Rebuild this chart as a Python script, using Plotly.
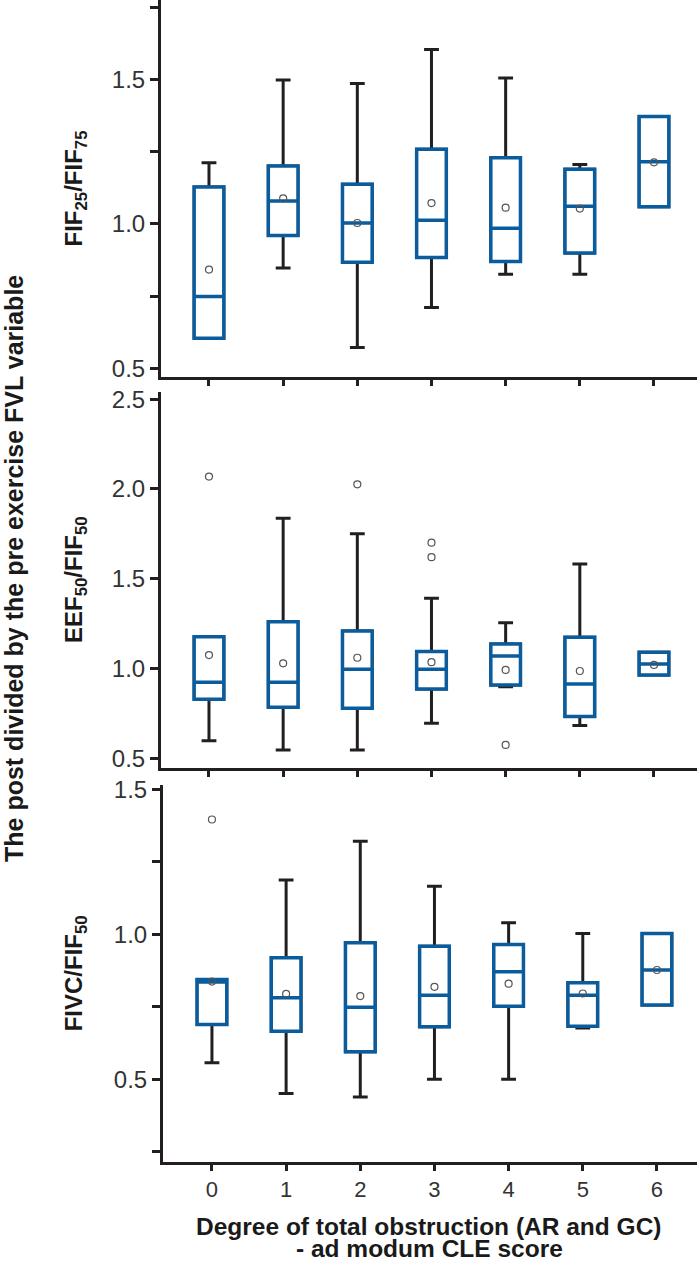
import plotly.graph_objects as go

# ---------------- data ----------------
categories = [0, 1, 2, 3, 4, 5, 6]

# Panel 1: FIF25/FIF75
p1_lower = [0.604, 0.847, 0.572, 0.711, 0.826, 0.826, 1.059]
p1_q1 = [0.604, 0.960, 0.867, 0.884, 0.870, 0.899, 1.059]
p1_median = [0.749, 1.079, 1.003, 1.013, 0.985, 1.061, 1.215]
p1_q3 = [1.128, 1.200, 1.137, 1.258, 1.229, 1.189, 1.372]
p1_upper = [1.212, 1.498, 1.486, 1.604, 1.505, 1.206, 1.372]
p1_mean = [0.842, 1.088, 1.003, 1.072, 1.056, 1.053, 1.213]
p1_out_x = []
p1_out_y = []

# Panel 2: EEF50/FIF50
p2_lower = [0.598, 0.546, 0.546, 0.695, 0.899, 0.682, 0.964]
p2_q1 = [0.829, 0.784, 0.779, 0.886, 0.908, 0.732, 0.964]
p2_median = [0.923, 0.923, 0.996, 0.996, 1.070, 0.914, 1.025]
p2_q3 = [1.177, 1.261, 1.209, 1.094, 1.137, 1.174, 1.091]
p2_upper = [1.177, 1.837, 1.750, 1.391, 1.255, 1.582, 1.091]
p2_mean = [1.075, 1.029, 1.060, 1.035, 0.992, 0.986, 1.020]
p2_out_x = [0, 2, 3, 3, 4]
p2_out_y = [2.069, 2.026, 1.701, 1.620, 0.574]

# Panel 3: FIVC/FIF50
p3_lower = [0.557, 0.451, 0.439, 0.500, 0.500, 0.677, 0.756]
p3_q1 = [0.689, 0.666, 0.595, 0.681, 0.752, 0.683, 0.756]
p3_median = [0.836, 0.781, 0.749, 0.790, 0.871, 0.790, 0.877]
p3_q3 = [0.844, 0.919, 0.971, 0.959, 0.965, 0.833, 1.003]
p3_upper = [0.844, 1.187, 1.321, 1.166, 1.040, 1.003, 1.003]
p3_mean = [0.837, 0.795, 0.787, 0.819, 0.830, 0.796, 0.877]
p3_out_x = [0]
p3_out_y = [1.396]

x_tick_labels = ["0", "1", "2", "3", "4", "5", "6"]

panel_titles = ["FIF<sub>25</sub>/FIF<sub>75</sub>",
                "EEF<sub>50</sub>/FIF<sub>50</sub>",
                "FIVC/FIF<sub>50</sub>"]
outer_title = "The post divided by the pre exercise FVL variable"
x_title_1 = "Degree of total obstruction (AR and GC)"
x_title_2 = "- ad modum CLE score"

# ---------------- styling ----------------
BLUE = "#0b5c9c"
BLACK = "#231f20"
FONT = "Liberation Sans, Arial, sans-serif"
TICK_COLOR = "#333333"
BOX_W = 0.40

W, H = 700, 1261
ML, MR, MT, MB = 161, 3, 0, 99
plot_h = H - MT - MB

def ydom(top_px, bot_px):
    return [(plot_h - bot_px) / plot_h, (plot_h - top_px) / plot_h]

panels = [
    dict(lower=p1_lower, q1=p1_q1, med=p1_median, q3=p1_q3, upper=p1_upper,
         mean=p1_mean, ox=p1_out_x, oy=p1_out_y),
    dict(lower=p2_lower, q1=p2_q1, med=p2_median, q3=p2_q3, upper=p2_upper,
         mean=p2_mean, ox=p2_out_x, oy=p2_out_y),
    dict(lower=p3_lower, q1=p3_q1, med=p3_median, q3=p3_q3, upper=p3_upper,
         mean=p3_mean, ox=p3_out_x, oy=p3_out_y),
]

fig = go.Figure()
for i, p in enumerate(panels):
    xa = "x" if i == 0 else f"x{i+1}"
    ya = "y" if i == 0 else f"y{i+1}"
    # black box: supplies the whiskers
    fig.add_trace(go.Box(
        x=categories, q1=p["q1"], median=p["med"], q3=p["q3"],
        lowerfence=p["lower"], upperfence=p["upper"],
        width=BOX_W, whiskerwidth=0.5,
        line=dict(color=BLACK, width=3), fillcolor="white",
        boxpoints=False, hoverinfo="skip", showlegend=False,
        xaxis=xa, yaxis=ya))
    # blue box on top
    fig.add_trace(go.Box(
        x=categories, q1=p["q1"], median=p["med"], q3=p["q3"],
        lowerfence=p["q1"], upperfence=p["q3"],
        width=BOX_W, whiskerwidth=0,
        line=dict(color=BLUE, width=3.5), fillcolor="white",
        boxpoints=False, showlegend=False,
        xaxis=xa, yaxis=ya))
    # means
    fig.add_trace(go.Scatter(
        x=categories, y=p["mean"], mode="markers",
        marker=dict(symbol="circle-open", size=7, color="#555555",
                    line=dict(width=1.2, color="#555555")),
        showlegend=False, xaxis=xa, yaxis=ya))
    # outliers
    if p["ox"]:
        fig.add_trace(go.Scatter(
            x=p["ox"], y=p["oy"], mode="markers",
            marker=dict(symbol="circle-open", size=7, color="#555555",
                        line=dict(width=1.2, color="#555555")),
            showlegend=False, xaxis=xa, yaxis=ya))

fig.update_layout(boxmode="overlay")

common_x = dict(showline=True, linecolor=BLACK, linewidth=3, ticks="outside",
                ticklen=6, tickwidth=2.5, tickcolor=BLACK, showgrid=False,
                zeroline=False, tickvals=categories, ticktext=x_tick_labels,
                automargin=False,
                tickfont=dict(family=FONT, size=22, color=TICK_COLOR))
common_y = dict(showline=True, linecolor=BLACK, linewidth=3, ticks="outside",
                ticklen=8, tickwidth=2.5, tickcolor=BLACK, showgrid=False,
                zeroline=False, tickformat=".1f", automargin=False,
                tickfont=dict(family=FONT, size=24, color=TICK_COLOR))

fig.update_layout(
    template="none",
    width=W, height=H,
    margin=dict(l=ML, r=MR, t=MT, b=MB, pad=0),
    paper_bgcolor="white", plot_bgcolor="white",
    font=dict(family=FONT, color="#1a1a1a"),
    showlegend=False,
    xaxis=dict(common_x, domain=[0, 1], range=[-0.647, 6.58], anchor="y",
               showticklabels=False),
    xaxis2=dict(common_x, domain=[0, 1], range=[-0.647, 6.58], anchor="y2",
                showticklabels=False),
    xaxis3=dict(common_x, domain=[2 / (W - ML - MR), 1], range=[-0.66, 6.54],
                anchor="y3", showticklabels=True),
    yaxis=dict(common_y, domain=ydom(0, 377), range=[0.47, 1.775],
               anchor="x", tickvals=[0.5, 1.0, 1.5],
               minor=dict(tickvals=[0.75, 1.25, 1.75], ticks="outside",
                          ticklen=8, tickwidth=2.5, tickcolor=BLACK,
                          showgrid=False)),
    yaxis2=dict(common_y, domain=ydom(391.7, 768.3), range=[0.444, 2.542],
                anchor="x2", tickvals=[0.5, 1.0, 1.5, 2.0, 2.5]),
    yaxis3=dict(common_y, domain=ydom(785, 1161.7), range=[0.216, 1.515],
                anchor="x3", tickvals=[0.5, 1.0, 1.5],
                minor=dict(tickvals=[0.25, 0.75, 1.25], ticks="outside",
                           ticklen=8, tickwidth=2.5, tickcolor=BLACK,
                           showgrid=False)),
)

pw = W - ML - MR
annots = []
for i, t in enumerate(panel_titles):
    ya = "y" if i == 0 else f"y{i+1}"
    annots.append(dict(text=t, xref="paper", yref=f"{ya} domain",
                       x=(75 - ML) / pw, y=0.5, xanchor="center",
                       yanchor="middle", textangle=-90, showarrow=False,
                       font=dict(family=FONT, size=24, color="#1a1a1a",
                                 weight="bold")))
annots.append(dict(text=outer_title, xref="paper", yref="paper",
                   x=(14 - ML) / pw, y=(plot_h - 569) / plot_h,
                   xanchor="center", yanchor="middle", textangle=-90,
                   showarrow=False,
                   font=dict(family=FONT, size=25, color="#1a1a1a",
                             weight="bold")))
annots.append(dict(text=x_title_1, xref="paper", yref="paper",
                   x=(429 - ML) / pw, y=(plot_h - 1226) / plot_h,
                   xanchor="center", yanchor="middle", showarrow=False,
                   font=dict(family=FONT, size=24.5, color="#1a1a1a",
                             weight="bold")))
annots.append(dict(text=x_title_2, xref="paper", yref="paper",
                   x=(429 - ML) / pw, y=(plot_h - 1248) / plot_h,
                   xanchor="center", yanchor="middle", showarrow=False,
                   font=dict(family=FONT, size=24.5, color="#1a1a1a",
                             weight="bold")))
fig.update_layout(annotations=annots)

fig.write_html("out.html",
               config={"displayModeBar": False},
               post_script="document.body.style.margin='0';"
                           "document.body.style.overflow='hidden';")
